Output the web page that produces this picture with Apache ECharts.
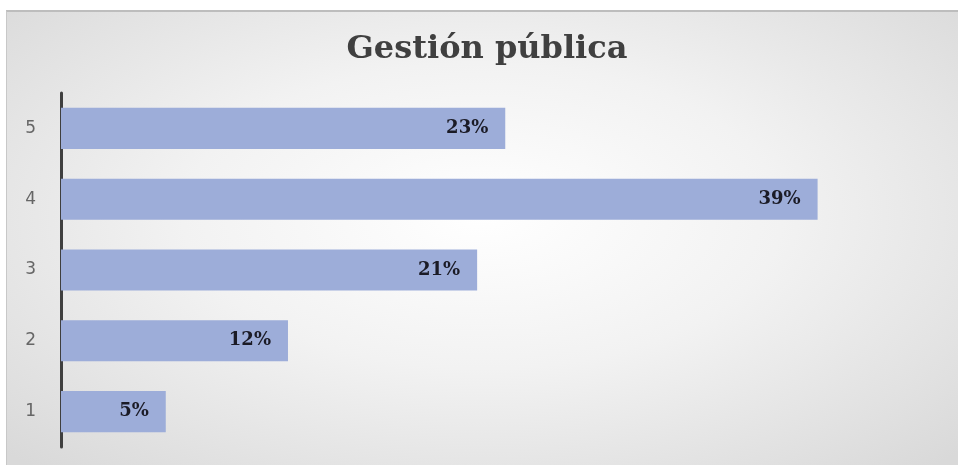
<!DOCTYPE html>
<html><head><meta charset="utf-8">
<script src="https://cdn.jsdelivr.net/npm/echarts@6/dist/echarts.min.js"></script>
<style>
html,body{margin:0;padding:0;background:#fff;width:958px;height:465px;overflow:hidden;}
#frame{position:absolute;left:6px;top:10px;width:952px;height:455px;box-sizing:border-box;border-top:2px solid #bdbdbd;border-left:1px solid #c8c8c8;
background:radial-gradient(ellipse 70% 75% at 50% 45%, #ffffff 0%, #f2f2f2 45%, #d9d9d9 100%);}
#chart{position:absolute;left:0;top:0;width:958px;height:465px;}
</style></head>
<body><div id="frame"></div><div id="chart"></div>
<script>
const title = 'Gestión pública';
const categories = ['1','2','3','4','5'];
const values = [5.4, 11.7, 21.45, 39.0, 22.9];
const chart = echarts.init(document.getElementById('chart'));
chart.setOption({
  animation:false,
  title:{text:title,left:482,textAlign:'center',top:29,textStyle:{fontFamily:'DejaVu Serif',fontWeight:'bold',fontSize:32,color:'#404040'}},
  grid:{left:61,right:121,top:93,bottom:18,containLabel:false},
  xAxis:{type:'value',min:0,max:40,show:false,splitLine:{show:false}},
  yAxis:{type:'category',data:categories,
    axisLine:{show:true,lineStyle:{color:'#3f3f3f',width:3}},
    axisTick:{show:false},
    axisLabel:{color:'#666666',fontFamily:'DejaVu Sans',fontSize:17,margin:25}},
  series:[{type:'bar',data:values,barCategoryGap:'42%',
    itemStyle:{color:'#9dadd9'},
    label:{show:true,position:'insideRight',distance:17,formatter:p=>Math.round(p.value)+'%',
      fontFamily:'DejaVu Serif',fontWeight:'bold',fontSize:18,color:'#1b1b26'}}]
});
</script></body></html>
